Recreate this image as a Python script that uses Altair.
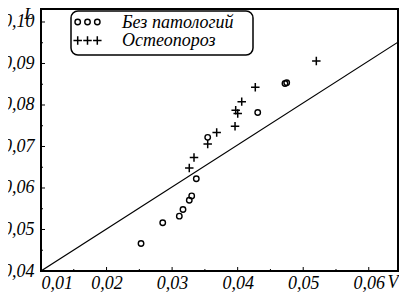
import altair as alt
import pandas as pd

# ---- data ----
healthy_V = [0.02526, 0.02857, 0.03110, 0.03166, 0.03262, 0.03299, 0.03369, 0.03543, 0.04306, 0.04722, 0.04748]
healthy_L = [0.04662, 0.05164, 0.05322, 0.05482, 0.05705, 0.05810, 0.06223, 0.07220, 0.07818, 0.08518, 0.08535]
osteo_V = [0.03262, 0.03334, 0.03543, 0.03680, 0.03960, 0.03970, 0.04001, 0.04062, 0.04269, 0.05200]
osteo_L = [0.06479, 0.06733, 0.07060, 0.07340, 0.07490, 0.07873, 0.07794, 0.08081, 0.08430, 0.09061]
line_V = [0.01, 0.0652]
line_L = [0.04, 0.0959]
x_ticks = [0.01, 0.02, 0.03, 0.04, 0.05, 0.06]
x_minor = [0.015, 0.025, 0.035, 0.045, 0.055]
y_ticks = [0.04, 0.05, 0.06, 0.07, 0.08, 0.09, 0.10]
y_minor = [0.045, 0.055, 0.065, 0.075, 0.085, 0.095]
series_labels = ["Без патологий", "Остеопороз"]
x_title = "V"
y_title = "L"

W, H = 357, 262
FONT = "Liberation Serif"
PLUS = "M-1,0H1M0,-1V1"

xs = alt.Scale(domain=[0.01, 0.06446], nice=False, zero=False)
ys = alt.Scale(domain=[0.04, 0.10313], nice=False, zero=False)
lbl = "replace(format(datum.value, '.2f'), '.', ',')"

x_axis = alt.Axis(values=x_ticks, ticks=False, domain=False, grid=False, labelExpr=lbl,
                  labelFont=FONT, labelFontStyle="italic", labelFontSize=18, labelColor="black",
                  labelPadding=3, title=None, labelOverlap=False)
y_axis = alt.Axis(values=y_ticks, ticks=False, domain=False, grid=False, labelExpr=lbl,
                  labelFont=FONT, labelFontStyle="italic", labelFontSize=18, labelColor="black",
                  labelPadding=7, title=None, labelOverlap=False, labelBaseline="middle")

X = lambda f: alt.X(f, scale=xs, axis=x_axis)
Y = lambda f: alt.Y(f, scale=ys, axis=y_axis)

one = pd.DataFrame({"a": [0]})

healthy = pd.DataFrame({"V": healthy_V, "L": healthy_L})
osteo = pd.DataFrame({"V": osteo_V, "L": osteo_L})
line = pd.DataFrame({"V": line_V, "L": line_L})

line_layer = alt.Chart(line).mark_line(color="black", strokeWidth=1.2, clip=True).encode(
    x=X("V:Q"), y=Y("L:Q"))

circ_layer = alt.Chart(healthy).mark_point(shape="circle", filled=False, color="black",
                                           strokeWidth=1.4, size=30, opacity=1).encode(
    x=X("V:Q"), y=Y("L:Q"))

plus_layer = alt.Chart(osteo).mark_point(shape=PLUS, filled=False, color="black",
                                         strokeWidth=1.5, size=72, opacity=1).encode(
    x=X("V:Q"), y=Y("L:Q"))

def xtick(vals, length):
    return alt.Chart(pd.DataFrame({"V": vals})).mark_rule(color="black", strokeWidth=1).encode(
        x=X("V:Q"), y=alt.value(H), y2=alt.value(H - length))

def ytick(vals, length):
    return alt.Chart(pd.DataFrame({"L": vals})).mark_rule(color="black", strokeWidth=1).encode(
        y=Y("L:Q"), x=alt.value(0), x2=alt.value(length))

ticks = [xtick(x_ticks, 4), xtick(x_minor, 2), ytick(y_ticks, 4), ytick(y_minor, 2)]

# legend (manual, to reproduce the triple symbols)
legend_box = alt.Chart(one).mark_rect(cornerRadius=7, fill="white", stroke="black", strokeWidth=1.5).encode(
    x=alt.value(30), x2=alt.value(212), y=alt.value(2), y2=alt.value(46))
legend_layers = [legend_box]
row_y = [13, 31.5]
sym_x = [36.7, 46.5, 56.3]
for i, lab in enumerate(series_labels):
    for sx in sym_x:
        if i == 0:
            m = alt.Chart(one).mark_point(shape="circle", filled=False, color="black",
                                          strokeWidth=1.4, size=30, opacity=1)
        else:
            m = alt.Chart(one).mark_point(shape=PLUS, filled=False, color="black",
                                          strokeWidth=1.5, size=72, opacity=1)
        legend_layers.append(m.encode(x=alt.value(sx), y=alt.value(row_y[i])))
    legend_layers.append(
        alt.Chart(pd.DataFrame({"t": [lab]})).mark_text(
            align="left", baseline="middle", font=FONT, fontStyle="italic", fontSize=18, color="black"
        ).encode(text="t:N", x=alt.value(81), y=alt.value(row_y[i] + 0.5)))

titles = [
    alt.Chart(pd.DataFrame({"t": [y_title]})).mark_text(
        align="center", baseline="top", font=FONT, fontStyle="italic", fontSize=17, color="black"
    ).encode(text="t:N", x=alt.value(-12), y=alt.value(-3)),
    alt.Chart(pd.DataFrame({"t": [x_title]})).mark_text(
        align="center", baseline="middle", font=FONT, fontStyle="italic", fontSize=18, color="black"
    ).encode(text="t:N", x=alt.value(352), y=alt.value(H + 12)),
]

chart = alt.layer(line_layer, *ticks, circ_layer, plus_layer, *legend_layers, *titles).properties(
    width=W, height=H,
    autosize=alt.AutoSizeParams(type="none"),
    padding={"left": 33, "top": 1, "right": 1, "bottom": 21},
    background="white",
).configure_view(stroke="black", strokeWidth=2)

chart.save("out.html", embed_options={"renderer": "svg", "actions": False})
